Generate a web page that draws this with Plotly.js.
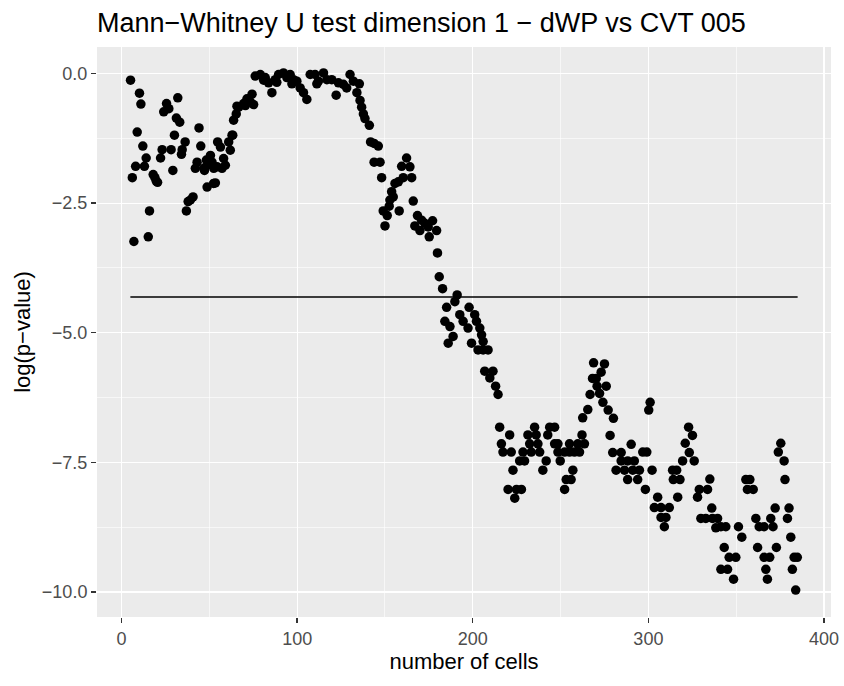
<!DOCTYPE html>
<html>
<head>
<meta charset="utf-8">
<script src="https://cdn.plot.ly/plotly-3.0.1.min.js"></script>
<style>
html,body{margin:0;padding:0;background:#fff;}
#chart{width:844px;height:686px;}
</style>
</head>
<body>
<div id="chart"></div>
<script>
// number of cells (x) and log(p-value) (y)
var cellsX = [
5.1,6.1,7.0,8.0,8.9,10.2,11.0,12.1,13.0,14.0,15.2,15.9,18.0,19.0,19.8,20.5,22.2,23.1,24.0,25.6,
26.9,28.2,29.2,30.1,31.2,32.0,33.1,34.1,34.5,36.2,36.9,37.9,39.2,40.7,42.0,43.0,44.1,45.1,46.8,47.2,
48.3,48.7,48.7,50.6,51.5,52.4,52.5,53.4,54.4,54.7,56.3,57.2,58.1,59.1,61.0,61.9,62.9,63.3,63.8,65.3,
65.7,66.7,69.5,70.5,71.4,73.3,74.3,75.2,76.1,79.0,80.9,81.8,83.7,85.6,87.5,88.4,89.4,92.2,94.1,96.0,
97.0,97.9,99.8,101.7,103.6,105.5,107.4,110.2,111.2,112.1,115.0,116.9,119.7,122.2,123.5,126.3,128.2,130.1,132.0,134.0,
135.4,135.8,136.7,137.7,138.6,141.1,141.8,143.8,146.2,143.8,147.2,148.1,149.0,150.0,151.3,152.4,152.8,153.8,154.7,155.7,
157.6,158.1,159.5,160.4,162.3,164.2,165.2,166.1,167.0,168.5,169.9,170.8,172.7,174.6,175.2,177.1,179.4,179.9,180.9,182.8,
184.1,185.1,186.0,187.0,188.8,189.8,191.1,192.6,194.5,197.3,197.9,199.3,201.1,202.1,203.0,204.0,205.0,205.9,205.9,206.8,
208.7,209.7,211.5,213.0,214.4,215.3,216.3,217.2,220.1,221.0,221.9,222.9,223.9,224.9,226.7,227.7,228.6,229.5,231.4,232.4,
233.3,235.2,236.1,237.1,238.1,239.9,241.8,242.7,243.8,246.6,246.6,248.5,248.5,249.8,252.3,252.3,253.2,255.1,255.1,256.0,
257.0,257.9,259.8,260.8,262.2,262.6,263.6,265.5,266.8,268.2,268.8,270.3,270.8,273.1,272.2,274.1,275.0,276.0,277.1,278.2,
279.7,280.1,281.6,284.5,284.5,286.4,288.2,288.2,290.2,291.1,292.0,294.9,293.9,296.8,298.3,299.1,300.2,301.0,302.1,303.4,
305.3,307.2,307.2,309.1,310.0,311.9,313.8,314.2,316.1,316.7,318.0,319.5,321.0,322.9,323.3,325.1,326.1,328.0,329.0,329.9,
332.7,333.7,335.0,336.1,336.5,338.4,339.4,341.3,344.1,343.2,341.3,345.1,346.0,349.8,348.5,351.3,353.2,355.5,357.8,356.4,
359.7,361.2,362.2,363.1,365.9,365.9,366.9,367.8,369.1,369.7,371.0,372.2,372.9,374.0,375.4,377.3,377.8,379.2,380.1,381.1,
382.0,383.0,384.8,383.9
];
var logP = [
-0.13,-2.01,-3.24,-1.79,-1.13,-0.38,-0.59,-1.40,-1.79,-1.63,-3.15,-2.65,-1.95,-2.01,-2.08,-2.10,-1.63,-1.47,-0.74,-0.58,
-0.68,-1.47,-1.87,-1.19,-0.86,-0.47,-0.94,-1.56,-1.47,-1.32,-2.65,-2.47,-2.44,-2.38,-1.83,-1.71,-1.05,-1.40,-1.83,-1.87,
-1.67,-2.19,-1.77,-1.58,-1.71,-2.12,-1.83,-2.11,-1.80,-1.32,-1.42,-1.83,-1.64,-1.77,-1.32,-1.48,-1.19,-1.19,-0.90,-0.78,
-0.63,-0.65,-0.58,-0.62,-0.49,-0.55,-0.40,-0.60,-0.05,-0.02,-0.13,-0.08,-0.18,-0.37,-0.12,-0.17,-0.02,0.01,-0.08,-0.02,
-0.20,-0.12,-0.15,-0.28,-0.37,-0.50,-0.02,-0.02,-0.20,-0.15,0.01,-0.12,-0.12,-0.42,-0.18,-0.21,-0.28,-0.02,-0.15,-0.37,
-0.20,-0.52,-0.65,-0.78,-0.87,-1.00,-1.32,-1.35,-1.40,-1.71,-1.71,-2.01,-2.65,-2.94,-2.74,-2.56,-2.44,-2.28,-2.38,-2.12,
-2.09,-2.65,-1.79,-2.01,-1.63,-1.80,-2.01,-2.46,-2.94,-2.74,-3.03,-2.83,-2.89,-2.96,-3.15,-2.84,-3.03,-3.46,-3.92,-4.15,
-4.78,-4.51,-5.20,-4.88,-5.07,-4.40,-4.27,-4.65,-4.78,-4.91,-4.51,-5.20,-4.65,-4.78,-5.33,-4.91,-5.04,-5.17,-5.33,-5.74,
-5.33,-5.87,-5.74,-6.03,-6.19,-6.82,-7.14,-7.30,-8.02,-6.97,-7.30,-7.65,-8.19,-8.02,-7.47,-8.02,-7.30,-7.47,-6.97,-7.14,
-7.30,-6.82,-6.97,-7.14,-7.30,-7.65,-7.47,-6.97,-6.82,-6.82,-7.14,-7.14,-7.30,-7.47,-7.30,-8.02,-7.83,-7.14,-7.30,-7.83,
-7.65,-7.30,-7.14,-7.30,-6.97,-6.64,-7.14,-6.48,-6.19,-5.88,-5.58,-5.88,-6.03,-5.76,-6.17,-6.34,-5.60,-6.03,-6.49,-6.98,
-7.31,-6.65,-7.65,-7.31,-7.47,-7.65,-7.47,-7.83,-7.15,-7.65,-7.47,-7.65,-7.83,-7.30,-8.02,-7.30,-6.49,-6.34,-7.65,-8.37,
-8.17,-8.37,-8.56,-8.74,-8.56,-8.37,-7.65,-7.83,-7.65,-8.17,-7.83,-7.47,-7.13,-6.82,-7.31,-6.98,-7.47,-8.17,-8.02,-8.58,
-8.58,-8.02,-7.82,-8.38,-8.58,-8.76,-8.58,-8.74,-8.74,-9.14,-9.56,-9.56,-9.33,-9.33,-9.75,-8.74,-8.94,-7.83,-7.83,-8.02,
-8.02,-8.58,-9.14,-8.74,-8.74,-9.33,-9.56,-9.75,-9.33,-8.58,-8.74,-8.38,-9.14,-7.30,-7.13,-7.47,-7.83,-8.58,-8.38,-8.94,
-9.56,-9.33,-9.33,-9.96
];
// horizontal threshold line
var thresholdX = [5, 385];
var thresholdY = [-4.31, -4.31];

// axis ticks
var xTickVals = [0, 100, 200, 300, 400];
var xTickText = ["0", "100", "200", "300", "400"];
var yTickVals = [0, -2.5, -5, -7.5, -10];
var yTickText = ["0.0", "\u22122.5", "\u22125.0", "\u22127.5", "\u221210.0"];
var xMinorVals = [50, 150, 250, 350];
var yMinorVals = [-1.25, -3.75, -6.25, -8.75];

var traces = [
  {
    x: thresholdX, y: thresholdY, type: 'scatter', mode: 'lines',
    line: {color: '#000000', width: 1.6}, hoverinfo: 'skip', showlegend: false
  },
  {
    x: cellsX, y: logP, type: 'scatter', mode: 'markers',
    marker: {color: '#000000', size: 9.5, line: {width: 0}}, showlegend: false
  }
];

var fontFam = '"Liberation Sans", Arial, Helvetica, sans-serif';
var layout = {
  width: 844, height: 686,
  paper_bgcolor: '#ffffff',
  plot_bgcolor: '#EBEBEB',
  margin: {l: 96.5, r: 13.2, t: 46.5, b: 69.3},
  showlegend: false,
  font: {family: fontFam, color: '#000000'},
  title: {
    text: 'Mann\u2212Whitney U test dimension 1 \u2212 dWP vs CVT 005',
    font: {size: 27, color: '#000000', family: fontFam},
    x: 97/844, xref: 'container', xanchor: 'left',
    y: 1 - 23/686, yref: 'container', yanchor: 'middle'
  },
  xaxis: {
    range: [-14, 404],
    tickmode: 'array', tickvals: xTickVals, ticktext: xTickText,
    ticks: 'outside', ticklen: 5, tickwidth: 1.4, tickcolor: '#333333',
    tickfont: {size: 18, color: '#4D4D4D', family: fontFam},
    showgrid: true, gridcolor: '#FFFFFF', gridwidth: 1.2,
    minor: {tickmode: 'array', tickvals: xMinorVals, showgrid: true, gridcolor: '#FFFFFF', gridwidth: 0.6, ticks: ''},
    zeroline: false, showline: false,
    title: {text: 'number of cells', font: {size: 22, color: '#000000', family: fontFam}, standoff: 4}
  },
  yaxis: {
    range: [-10.48, 0.51],
    tickmode: 'array', tickvals: yTickVals, ticktext: yTickText,
    ticks: 'outside', ticklen: 5, tickwidth: 1.4, tickcolor: '#333333',
    tickfont: {size: 18, color: '#4D4D4D', family: fontFam},
    showgrid: true, gridcolor: '#FFFFFF', gridwidth: 1.2,
    minor: {tickmode: 'array', tickvals: yMinorVals, showgrid: true, gridcolor: '#FFFFFF', gridwidth: 0.6, ticks: ''},
    zeroline: false, showline: false,
    title: {text: 'log(p\u2212value)', font: {size: 22, color: '#000000', family: fontFam}, standoff: 5}
  }
};

Plotly.newPlot('chart', traces, layout, {displayModeBar: false, staticPlot: true});
</script>
</body>
</html>
